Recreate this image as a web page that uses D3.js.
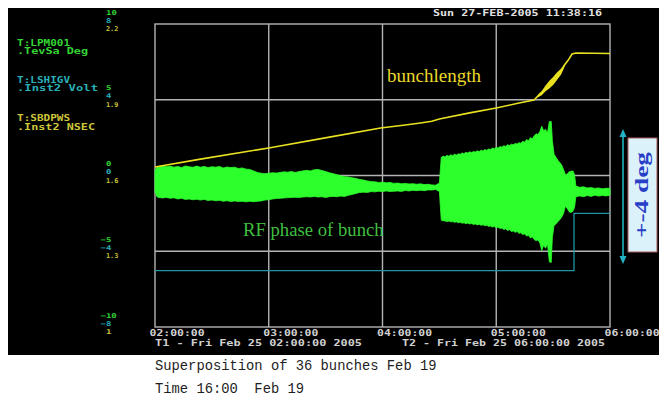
<!DOCTYPE html>
<html>
<head>
<meta charset="utf-8">
<script src="https://cdn.jsdelivr.net/npm/d3@7/dist/d3.min.js"></script>
<style>
  body { margin: 0; background: #ffffff; }
  svg { display: block; }
  .px { font-family: "DejaVu Sans Mono", monospace; font-weight: bold; font-size: 8px; }
</style>
</head>
<body>
<svg id="chart" width="662" height="397"></svg>
<script>
// ---- time window (minutes after T1) ----
const T1 = new Date(2005, 1, 25, 2, 0, 0);
const T2 = new Date(2005, 1, 25, 6, 0, 0);
const hourTicks = [0, 1, 2, 3, 4];
const hourLabels = ["02:00:00", "03:00:00", "04:00:00", "05:00:00", "06:00:00"];

// ---- left axis tick labels (three parameters share the grid) ----
const degTicks = [10, 5, 0, -5, -10];
const voltTicks = [8, 4, 0, -4, -8];
const nsecTicks = [2.2, 1.9, 1.6, 1.3, 1];

// ---- RF phase of bunch (deg): envelope of the superposed bunches ----
const phaseMinutes = [
  0, 1, 2, 4, 6, 8, 10, 12, 14, 16, 18, 20, 22, 24, 26, 28, 30, 32, 34, 36, 38, 40,
  42, 44, 46, 48, 50, 52, 54, 56, 58, 60, 62, 64, 66, 68, 70, 72, 74, 76, 78, 80,
  82, 84, 86, 88, 90, 92, 94, 96, 98, 100, 102, 104, 106, 108, 110, 112, 114, 116,
  118, 120, 122, 124, 126, 128, 130, 132, 134, 136, 138, 140, 142, 144, 146, 148, 150,
  151, 152, 153, 154, 155, 156, 157, 158, 159, 160, 161, 162, 163, 164, 165, 166, 167, 168, 169, 170,
  171, 172, 173, 174, 175, 176, 177, 178, 179, 180, 181, 182, 183, 184, 185, 186, 187, 188, 189, 190,
  191, 192, 193, 194, 195, 196, 197, 198, 199, 200,
  201, 202, 203, 204, 205, 206, 207, 208, 209, 209.6, 210.5, 211.5, 212.5, 213.5, 214.5, 215.5,
  216.5, 217.5, 218.5, 219.5, 220.5, 221.3, 222, 224, 226, 228, 230, 232, 234, 236, 238, 240
];
const phaseTop = [
  0.35, 0.55, 0.60, 0.66, 0.58, 0.62, 0.55, 0.60, 0.52, 0.63, 0.58, 0.54, 0.62, 0.55, 0.60, 0.52, 0.58, 0.55, 0.60, 0.50, 0.56, 0.52,
  0.55, 0.46, 0.50, 0.42, 0.40, 0.30, 0.20, 0.15, 0.12, 0.15, 0.18, 0.16, 0.20, 0.24, 0.22, 0.26, 0.20, 0.26, 0.30, 0.34,
  0.30, 0.38, 0.40, 0.33, 0.26, 0.18, 0.12, 0.05, -0.02, -0.08, -0.10, -0.15, -0.20, -0.26, -0.30, -0.36, -0.40, -0.42,
  -0.46, -0.44, -0.48, -0.46, -0.52, -0.50, -0.55, -0.52, -0.56, -0.54, -0.58, -0.55, -0.60, -0.58, -0.62, -0.64, -0.50,
  1.20, 1.28, 1.22, 1.33, 1.27, 1.37, 1.31, 1.41, 1.35, 1.43, 1.40, 1.49, 1.44, 1.53, 1.48, 1.56, 1.52, 1.58, 1.55, 1.63,
  1.58, 1.67, 1.62, 1.71, 1.66, 1.75, 1.72, 1.81, 1.76, 1.86, 1.82, 1.91, 1.87, 1.97, 1.92, 2.03, 1.98, 2.07, 2.03, 2.11,
  2.08, 2.17, 2.13, 2.26, 2.20, 2.37, 2.30, 2.50, 2.42, 2.62,
  2.75, 2.70, 2.90, 3.25, 2.95, 3.05, 2.80, 3.56, 3.56, 2.30, 1.40, 1.20, 1.00, 0.86, 0.70, 0.40,
  0.05, 0.10, 0.25, 0.28, 0.30, 0.05, -0.70, -0.78, -0.75, -0.82, -0.80, -0.85, -0.82, -0.88, -0.84, -0.86
];
const phaseBottom = [
  -1.10, -1.40, -1.45, -1.48, -1.45, -1.50, -1.47, -1.55, -1.50, -1.58, -1.55, -1.60, -1.57, -1.62, -1.58, -1.65, -1.62, -1.67, -1.64, -1.70, -1.66, -1.72,
  -1.68, -1.72, -1.70, -1.74, -1.70, -1.73, -1.70, -1.68, -1.62, -1.60, -1.55, -1.52, -1.50, -1.48, -1.46, -1.45, -1.44, -1.45, -1.42, -1.40,
  -1.42, -1.38, -1.42, -1.40, -1.45, -1.40, -1.38, -1.40, -1.36, -1.38, -1.30, -1.25, -1.18, -1.12, -1.10, -1.12, -1.06, -1.08,
  -1.04, -1.06, -1.02, -1.05, -1.04, -1.02, -1.05, -0.99, -1.02, -0.98, -1.00, -0.97, -1.00, -0.95, -0.96, -0.92, -1.06,
  -2.95, -2.99, -3.00, -3.04, -3.01, -3.06, -3.04, -3.09, -3.06, -3.12, -3.09, -3.15, -3.12, -3.18, -3.14, -3.20, -3.17, -3.23, -3.20, -3.26,
  -3.22, -3.29, -3.25, -3.32, -3.29, -3.36, -3.33, -3.40, -3.36, -3.45, -3.41, -3.50, -3.46, -3.57, -3.52, -3.63, -3.58, -3.70, -3.66, -3.75,
  -3.70, -3.82, -3.78, -3.90, -3.85, -4.00, -3.95, -4.12, -4.05, -4.22,
  -4.30, -4.25, -4.45, -4.95, -4.60, -4.80, -4.50, -5.70, -5.74, -4.10, -3.30, -3.20, -3.05, -2.92, -2.75, -2.50,
  -2.00, -2.20, -2.40, -2.45, -2.35, -2.10, -1.40, -1.35, -1.40, -1.32, -1.38, -1.30, -1.36, -1.32, -1.35, -1.30
];

// ---- bunch length (nsec) ----
const bunchMinutes = [0, 24, 60, 92, 119, 132, 140, 146, 150, 166, 180, 192, 200, 203, 205, 207, 210, 214, 216, 218, 220, 222, 240];
const bunchNsec = [1.634, 1.665, 1.709, 1.752, 1.788, 1.800, 1.808, 1.815, 1.824, 1.848, 1.867, 1.887, 1.899, 1.923, 1.935, 1.950, 1.966, 2.006, 2.038, 2.057, 2.081, 2.085, 2.083];
// spread of the bunch length while it grows quickly
const rampMinutes = [202, 204, 206, 208, 210, 212, 214, 216];
const rampHigh = [1.918, 1.935, 1.956, 1.975, 1.990, 2.008, 2.022, 2.042];
const rampLow = [1.910, 1.918, 1.934, 1.945, 1.958, 1.978, 1.998, 2.032];

// ---- LSHIGV voltage (Volt) ----
const voltMinutes = [0, 221, 240];
const voltValues = [-5.02, -2.0, -2.0];

// ---------------------------------------------------------------
const svg = d3.select("#chart");
const plot = { left: 155, right: 610, top: 24, bottom: 327 };
const at = m => d3.timeSecond.offset(T1, Math.round(m * 60));

const x = d3.scaleTime().domain([T1, T2]).range([plot.left, plot.right]);
const yDeg = d3.scaleLinear().domain([-10, 10]).range([plot.bottom, plot.top]);
const yVolt = d3.scaleLinear().domain([-8, 8]).range([plot.bottom, plot.top]);
const yNs = d3.scaleLinear().domain([1, 2.2]).range([plot.bottom, plot.top]);

// display panel
svg.append("rect").attr("x", 8).attr("y", 8).attr("width", 651).attr("height", 347).attr("fill", "#000");

// helper for stretched pixel-style text
function pxText(g, str, xPos, yPos, width, color, anchor) {
  return g.append("text").attr("class", "px")
    .attr("x", xPos).attr("y", yPos)
    .attr("fill", color)
    .attr("text-anchor", anchor || "start")
    .attr("textLength", width).attr("lengthAdjust", "spacingAndGlyphs")
    .text(str);
}

// header date
pxText(svg, "Sun 27-FEB-2005 11:38:16", 433, 16, 169, "#e0e0e0");

// parameter names
const legend = svg.append("g");
const cGreen = "#33d633", cCyan = "#29aeb8", cYellow = "#cdc63a";
pxText(legend, "T:LPM001", 17, 46, 53, cGreen);
pxText(legend, ".TevSa  Deg", 17, 54, 71, cGreen);
pxText(legend, "T:LSHIGV", 17, 83, 53, cCyan);
pxText(legend, ".Inst2  Volt", 17, 91, 81, cCyan);
pxText(legend, "T:SBDPWS", 17, 121, 53, cYellow);
pxText(legend, ".Inst2  NSEC", 17, 130, 78, cYellow);

// grid
const grid = svg.append("g").attr("stroke", "#b4b4b4").attr("stroke-width", 1.4).attr("fill", "none");
grid.selectAll("line.h").data(degTicks.slice(1, -1)).join("line")
  .attr("x1", plot.left).attr("x2", plot.right)
  .attr("y1", d => yDeg(d)).attr("y2", d => yDeg(d));
grid.selectAll("line.v").data(hourTicks.slice(1, -1)).join("line")
  .attr("y1", plot.top).attr("y2", plot.bottom)
  .attr("x1", d => x(d3.timeHour.offset(T1, d))).attr("x2", d => x(d3.timeHour.offset(T1, d)));
grid.append("rect").attr("x", plot.left).attr("y", plot.top)
  .attr("width", plot.right - plot.left).attr("height", plot.bottom - plot.top);

// width of a short pixel-font label: digits and minus are full cells, the point is narrow
const labelWidth = s => s.split("").reduce((w, ch) => w + (ch === "." ? 1.5 : 5.4), 0);

// left axes: three stacked labels per grid line
function leftAxis(scale, ticks, fmt, color, dy) {
  const g = svg.append("g").attr("transform", `translate(0,${dy})`)
    .call(d3.axisLeft(scale).tickValues(ticks).tickSize(0).tickFormat(fmt));
  g.select(".domain").remove();
  g.selectAll("text")
    .attr("class", "px")
    .attr("fill", color)
    .attr("text-anchor", "start")
    .attr("x", d => d < 0 ? 100.5 : 106)
    .style("font-size", "6.6px")
    .attr("textLength", function () { return labelWidth(this.textContent); })
    .attr("lengthAdjust", "spacingAndGlyphs");
}
leftAxis(yDeg, degTicks, d3.format("d"), cGreen, -12);
leftAxis(yVolt, voltTicks, d3.format("d"), cCyan, -4);
leftAxis(yNs, nsecTicks, d => d === 1 ? "1" : d3.format(".1f")(d), cYellow, 4.5);

// bottom axis
const xa = svg.append("g").attr("transform", `translate(0,${plot.bottom})`)
  .call(d3.axisBottom(x).tickValues(hourTicks.map(h => d3.timeHour.offset(T1, h)))
    .tickSize(0).tickFormat((d, i) => hourLabels[i]));
xa.select(".domain").remove();
xa.selectAll("text").attr("class", "px").attr("fill", "#d0d0d0")
  .attr("text-anchor", "start").attr("x", -6).attr("y", 0).attr("dy", "9px")
  .attr("textLength", 55).attr("lengthAdjust", "spacingAndGlyphs");

pxText(svg, "T1 - Fri Feb 25 02:00:00 2005", 155, 346, 207, "#d0d0d0");
pxText(svg, "T2 - Fri Feb 25 06:00:00 2005", 402, 346, 203, "#d0d0d0");

// volt trace
svg.append("path")
  .datum(voltMinutes.map((m, i) => [m, voltValues[i]]))
  .attr("fill", "none").attr("stroke", "#1f95a5").attr("stroke-width", 1.3)
  .attr("d", d3.line().curve(d3.curveStepAfter).x(d => x(at(d[0]))).y(d => yVolt(d[1])));

// RF phase envelope
svg.append("path")
  .datum(phaseMinutes.map((m, i) => [m, phaseTop[i], phaseBottom[i]]))
  .attr("fill", "#2cff2c").attr("stroke", "#2cff2c").attr("stroke-width", 0.8)
  .attr("d", d3.area().x(d => x(at(d[0]))).y0(d => yDeg(d[2])).y1(d => yDeg(d[1])));

// bunch length
svg.append("path")
  .datum(rampMinutes.map((m, i) => [m, rampHigh[i], rampLow[i]]))
  .attr("fill", "#e8e020")
  .attr("d", d3.area().x(d => x(at(d[0]))).y0(d => yNs(d[2])).y1(d => yNs(d[1])));
svg.append("path")
  .datum(bunchMinutes.map((m, i) => [m, bunchNsec[i]]))
  .attr("fill", "none").attr("stroke", "#e8e020").attr("stroke-width", 1.6)
  .attr("d", d3.line().x(d => x(at(d[0]))).y(d => yNs(d[1])));

// trace captions
svg.append("text").attr("x", 387).attr("y", 82)
  .attr("font-family", "Liberation Serif, Times New Roman, serif").attr("font-size", 19)
  .attr("fill", "#ecd82a").text("bunchlength");
svg.append("text").attr("x", 243).attr("y", 236)
  .attr("font-family", "Liberation Serif, Times New Roman, serif").attr("font-size", 18.7)
  .attr("fill", "#3fbf3f").text("RF phase of bunch");

// +-4 deg range marker
const ann = svg.append("g");
ann.append("line").attr("x1", 623).attr("x2", 623).attr("y1", 135).attr("y2", 258)
  .attr("stroke", "#22b4c4").attr("stroke-width", 1.6);
ann.append("path").attr("d", "M623,129 L619.5,137 L626.5,137 Z").attr("fill", "#22b4c4");
ann.append("path").attr("d", "M623,264 L619.5,256 L626.5,256 Z").attr("fill", "#22b4c4");
ann.append("rect").attr("x", 628).attr("y", 138).attr("width", 29).attr("height", 114)
  .attr("fill", "#dcf2fa").attr("stroke", "#a85a5a").attr("stroke-width", 1);
ann.append("text")
  .attr("transform", "translate(648,195) rotate(-90)")
  .attr("text-anchor", "middle")
  .attr("font-family", "Liberation Serif, Times New Roman, serif").attr("font-weight", "bold")
  .attr("font-size", 18).attr("fill", "#2a3fc8")
  .attr("textLength", 86).attr("lengthAdjust", "spacingAndGlyphs")
  .text("+-4 deg");

// caption under the display
const cap = svg.append("g").attr("font-family", "Liberation Mono, Courier New, monospace")
  .attr("font-size", 13.8).attr("fill", "#1e1e1e");
cap.append("text").attr("x", 155).attr("y", 370).text("Superposition of 36 bunches Feb 19");
cap.append("text").attr("x", 155).attr("y", 393).text("Time 16:00\u00a0\u00a0Feb 19");
</script>
</body>
</html>
